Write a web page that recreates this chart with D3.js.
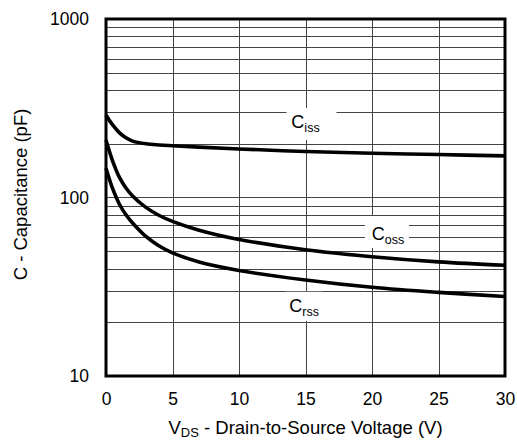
<!DOCTYPE html>
<html>
<head>
<meta charset="utf-8">
<script src="https://cdn.jsdelivr.net/npm/d3@7"></script>
<style>
  body { margin: 0; background: #fff; }
  text { font-family: "Liberation Sans", Arial, Helvetica, sans-serif; fill: #000; }
</style>
</head>
<body>
<svg id="chart" width="517" height="440"></svg>
<script>
// Drain-to-source voltage sample points (V)
const vds  = [0, 0.25, 0.5, 1, 1.5, 2, 3, 4, 5, 7, 10, 15, 20, 25, 30];
// Capacitances (pF) at each VDS point
const ciss = [290, 271, 255, 231, 216, 207, 200, 197, 195, 191.5, 187, 181, 177, 174, 171];
const coss = [210, 182, 160, 130, 113, 102, 88, 79.3, 73.5, 65.6, 58.2, 51, 46.6, 43.6, 41.7];
const crss = [146, 127, 112, 92, 80, 72, 60.5, 53.5, 49, 43.5, 39, 34.5, 31.4, 29.4, 27.9];

const xTicks = [0, 5, 10, 15, 20, 25, 30];
const yTicks = [10, 100, 1000];
const yGrid  = [20, 30, 40, 50, 60, 70, 80, 90, 100, 200, 300, 400, 500, 600, 700, 800, 900];

const svg = d3.select("#chart");
const margin = { left: 106, top: 19, right: 12, bottom: 64 };
const W = 517, H = 440;
const iw = W - margin.left - margin.right;
const ih = H - margin.top - margin.bottom;

const x = d3.scaleLinear().domain([0, 30]).range([0, iw]);
const y = d3.scaleLog().domain([10, 1000]).range([ih, 0]);

const g = svg.append("g").attr("transform", `translate(${margin.left},${margin.top})`);

// grid
g.append("g").selectAll("line").data(yGrid).join("line")
  .attr("x1", 0).attr("x2", iw)
  .attr("y1", d => Math.round(y(d)) + 0.5).attr("y2", d => Math.round(y(d)) + 0.5)
  .attr("stroke", "#444").attr("stroke-width", 1);
g.append("g").selectAll("line").data(xTicks.slice(1, -1)).join("line")
  .attr("y1", 0).attr("y2", ih)
  .attr("x1", d => Math.round(x(d)) + 0.5).attr("x2", d => Math.round(x(d)) + 0.5)
  .attr("stroke", "#444").attr("stroke-width", 1);

// curve labels: baseline position in data units, white box extents in px around it
const labels = [
  { name: "iss", v: 15.0, c: 245,  box: [-19, 31, -20, 12] },
  { name: "oss", v: 21.2, c: 57.8, box: [-23, 21, -24, 8] },
  { name: "rss", v: 14.9, c: 22.9, box: [-19, 18, -20, 9] }
];

const lab = g.append("g").selectAll("g").data(labels).join("g")
  .attr("transform", d => `translate(${x(d.v)},${y(d.c)})`);
lab.append("rect")
  .attr("x", d => d.box[0]).attr("width", d => d.box[1] - d.box[0])
  .attr("y", d => d.box[2]).attr("height", d => d.box[3] - d.box[2])
  .attr("fill", "#fff");

// capacitance curves
const line = d3.line()
  .x(d => x(d[0])).y(d => y(d[1]))
  .curve(d3.curveCatmullRom.alpha(0.5));
const series = [ciss, coss, crss];
g.append("g").selectAll("path").data(series).join("path")
  .attr("d", s => line(vds.map((v, i) => [v, s[i]])))
  .attr("fill", "none").attr("stroke", "#000").attr("stroke-width", 3.6)
  .attr("stroke-linejoin", "round");

const t = lab.append("text").attr("text-anchor", "middle").attr("font-size", 18);
t.append("tspan").text("C");
t.append("tspan").attr("font-size", 12.5).attr("dy", 4).text(d => d.name);

// frame
g.append("rect").attr("x", 0).attr("y", 0).attr("width", iw).attr("height", ih)
  .attr("fill", "none").attr("stroke", "#000").attr("stroke-width", 3);

// axes
const yAxis = g.append("g")
  .call(d3.axisLeft(y).tickValues(yTicks).tickFormat(d3.format("d")).tickSize(0).tickPadding(17));
const xAxis = g.append("g").attr("transform", `translate(0,${ih})`)
  .call(d3.axisBottom(x).tickValues(xTicks).tickFormat(d3.format("d")).tickSize(0).tickPadding(17));
[yAxis, xAxis].forEach(a => {
  a.select(".domain").remove();
  a.selectAll("text").attr("font-size", 17.5).attr("font-family", null).attr("fill", "#000");
});

// axis titles
const xt = svg.append("text")
  .attr("x", margin.left + iw / 2).attr("y", 434)
  .attr("text-anchor", "middle").attr("font-size", 18.5);
xt.append("tspan").text("V");
xt.append("tspan").attr("font-size", 13).attr("dy", 3).text("DS");
xt.append("tspan").attr("dy", -3).text(" - Drain-to-Source Voltage (V)");

svg.append("text")
  .attr("transform", `translate(27,${margin.top + y(100) - 3}) rotate(-90)`)
  .attr("text-anchor", "middle").attr("font-size", 18.5)
  .text("C - Capacitance (pF)");
</script>
</body>
</html>
